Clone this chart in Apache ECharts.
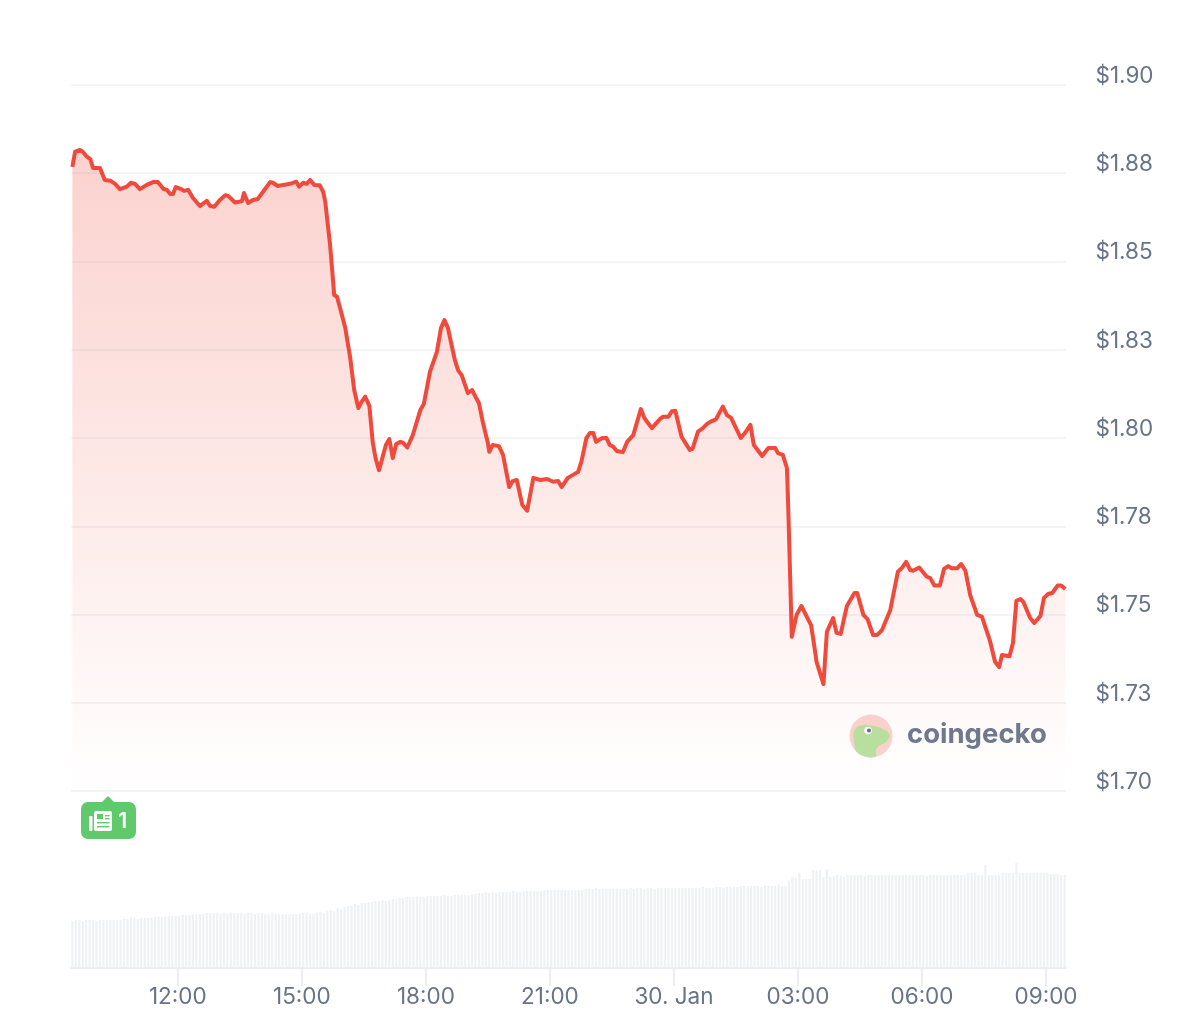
<!DOCTYPE html>
<html>
<head>
<meta charset="utf-8">
<style>html,body{margin:0;padding:0;background:#fff}#chart{width:1200px;height:1026px}</style>
<script src="https://cdn.jsdelivr.net/npm/echarts@6/dist/echarts.min.js"></script>
</head>
<body>
<div id="chart"></div>
<script>
// Minutes after 09:25 on 29 Jan
const priceMinutes = [2,6,13,17,23,28,32,42,49,57,64,71,81,87,93,100,110,119,126,134,139,144,148,152,159,164,170,177,187,197,202,208,216,224,228,238,248,251,257,264,271,289,293,300,308,318,327,331,337,342,347,353,361,366,369,376,382,386,390,398,405,411,417,422,427,433,438,442,447,457,462,467,472,478,482,488,496,507,512,521,531,537,542,547,557,562,567,576,582,587,592,598,605,607,612,621,627,636,641,647,655,662,671,681,691,700,707,712,721,736,741,748,753,758,762,771,777,782,787,792,801,807,816,827,832,836,843,855,859,867,872,877,886,898,902,910,917,923,930,936,946,952,958,972,978,986,991,1003,1012,1022,1026,1033,1039,1041,1044,1046,1053,1060,1074,1077,1082,1092,1097,1106,1111,1117,1126,1137,1141,1150,1156,1164,1170,1177,1189,1200,1206,1212,1218,1222,1231,1242,1247,1253,1261,1267,1273,1278,1286,1292,1298,1305,1315,1322,1334,1341,1347,1351,1362,1367,1372,1378,1382,1392,1398,1407,1412,1418,1424,1432,1437,1443];
const prices = [1.8768,1.8811,1.8816,1.8811,1.8797,1.8790,1.8765,1.8765,1.8731,1.8729,1.8720,1.8705,1.8712,1.8723,1.8720,1.8705,1.8717,1.8725,1.8725,1.8706,1.8703,1.8691,1.8691,1.8711,1.8706,1.8700,1.8703,1.8680,1.8657,1.8672,1.8657,1.8655,1.8674,1.8688,1.8686,1.8667,1.8671,1.8694,1.8666,1.8674,1.8677,1.8725,1.8723,1.8714,1.8717,1.8720,1.8726,1.8712,1.8723,1.8720,1.8731,1.8717,1.8716,1.8697,1.8669,1.8547,1.8405,1.8400,1.8372,1.8312,1.8230,1.8136,1.8085,1.8103,1.8117,1.8091,1.7986,1.7943,1.7909,1.7980,1.7997,1.7943,1.7983,1.7989,1.7986,1.7973,1.8008,1.8079,1.8096,1.8188,1.8244,1.8312,1.8334,1.8312,1.8221,1.8191,1.8178,1.8127,1.8136,1.8117,1.8099,1.8042,1.7986,1.7961,1.7980,1.7977,1.7952,1.7861,1.7878,1.7881,1.7810,1.7794,1.7887,1.7881,1.7884,1.7876,1.7878,1.7861,1.7887,1.7904,1.7935,1.8000,1.8014,1.8014,1.7989,1.8000,1.8000,1.7980,1.7975,1.7963,1.7960,1.7989,1.8008,1.8082,1.8057,1.8046,1.8028,1.8054,1.8060,1.8060,1.8076,1.8077,1.8004,1.7966,1.7969,1.8018,1.8028,1.8040,1.8048,1.8053,1.8089,1.8065,1.8057,1.8000,1.8014,1.8037,1.7980,1.7949,1.7972,1.7972,1.7957,1.7952,1.7915,1.7796,1.7584,1.7437,1.7499,1.7524,1.7470,1.7433,1.7366,1.7303,1.7451,1.7490,1.7448,1.7445,1.7524,1.7561,1.7561,1.7499,1.7487,1.7442,1.7442,1.7456,1.7513,1.7621,1.7632,1.7649,1.7626,1.7624,1.7633,1.7607,1.7603,1.7582,1.7582,1.7629,1.7637,1.7631,1.7631,1.7643,1.7624,1.7555,1.7499,1.7494,1.7423,1.7366,1.7351,1.7385,1.7382,1.7419,1.7539,1.7544,1.7536,1.7490,1.7476,1.7496,1.7547,1.7558,1.7561,1.7582,1.7582,1.7572];
// One value per 5 minutes
const volumes = [
47,48,48,47,48,48,48,47,48,48,48,48,48,48,48,49,49,50,50,49,
50,50,50,50,51,51,51,52,52,52,52,52,53,53,53,54,54,54,54,55,
55,55,55,54,55,54,55,55,55,55,54,55,55,54,55,55,54,54,55,54,
54,54,54,54,54,54,54,55,55,54,54,55,56,55,57,58,57,60,59,61,
62,62,64,63,65,65,66,66,67,67,68,67,68,69,69,70,70,71,71,71,
71,71,71,72,72,72,72,72,73,72,72,73,73,73,73,73,74,74,75,75,
76,75,76,75,76,76,76,76,77,76,76,77,77,77,77,77,77,78,78,78,
78,78,78,78,78,78,78,78,78,79,79,79,80,79,79,79,79,79,79,79,
79,79,80,79,80,80,79,80,80,79,80,80,80,80,80,80,80,80,80,80,
80,80,80,81,80,80,80,81,81,80,81,81,81,81,82,82,82,82,82,82,
81,82,82,82,82,83,82,82,87,91,90,95,89,89,89,98,98,98,91,99,
91,92,93,92,91,93,93,93,93,93,92,93,93,93,93,93,93,93,93,93,
93,93,93,93,93,93,93,93,92,93,93,93,93,93,93,93,93,93,93,93,
95,95,95,93,93,103,93,93,93,93,95,95,95,95,105,95,95,95,95,95,
95,95,95,95,94,94,94,93,93];
const startMinute = 565;
const xTickValues = [720,900,1080,1260,1440,1620,1800,1980];
const xTickLabels = ['12:00','15:00','18:00','21:00','30. Jan','03:00','06:00','09:00'];
const priceTicks = ['$1.70','$1.73','$1.75','$1.78','$1.80','$1.83','$1.85','$1.88','$1.90'];
const newsCount = '1';
const brand = 'coingecko';

const FONT = 'Inter';
const TEXT = '#667389';
const GRID = '#eff0f5';
const chart = echarts.init(document.getElementById('chart'), null, {renderer:'canvas', width:1200, height:1026});
const xRange = {min:startMinute, max:startMinute + 1444};
const GREEN = '#5fc96b';

chart.setOption({
  animation:false,
  backgroundColor:'#fff',
  grid:[
    {left:71, top:85, width:995, height:706},
    {left:71, top:858, width:995, height:110}
  ],
  xAxis:[
    Object.assign({type:'value', gridIndex:0, show:false, splitLine:{show:false}}, xRange),
    Object.assign({type:'value', gridIndex:1,
      axisLine:{show:true, onZero:false, lineStyle:{color:'#e6e8ee', width:1.5}},
      axisTick:{show:true, length:18, customValues:xTickValues, lineStyle:{color:'#e6e8ee', width:1.5}},
      axisLabel:{show:true, margin:18, customValues:xTickValues, color:TEXT, fontFamily:FONT, fontSize:22.5,
        formatter:v => xTickLabels[xTickValues.indexOf(v)] || ''},
      splitLine:{show:false}}, xRange)
  ],
  yAxis:[
    {type:'value', gridIndex:0, position:'right', min:1.7, max:1.9, interval:0.025,
      axisLine:{show:false}, axisTick:{show:false},
      axisLabel:{margin:29.5, color:TEXT, fontFamily:FONT, fontSize:22.5, verticalAlign:'bottom', lineHeight:18,
        formatter:(v,i) => priceTicks[Math.round((v-1.7)/0.025)]},
      splitLine:{show:true, lineStyle:{color:GRID, width:1.5}}},
    {type:'value', gridIndex:1, min:0, max:110, show:false, splitLine:{show:false}}
  ],
  series:[
    {type:'bar', xAxisIndex:1, yAxisIndex:1, barWidth:2.2, silent:true,
      itemStyle:{color:'#f0f1f5'},
      data:volumes.map((v,i) => [startMinute + 2 + i*5, v])},
    {type:'line', xAxisIndex:0, yAxisIndex:0, symbol:'none', smooth:false, silent:true,
      lineStyle:{color:'#ef4a3c', width:4, join:'round'},
      areaStyle:{origin:'start', color:{type:'linear',x:0,y:0,x2:0,y2:1,colorStops:[
        {offset:0,color:'rgba(238,66,50,0.34)'},{offset:1,color:'rgba(238,66,50,0)'}]}},
      data:prices.map((p,i) => [startMinute + priceMinutes[i], p])}
  ],
  graphic:[
    {type:'polygon', shape:{points:[[101,803],[108,796],[115,803]]}, style:{fill:GREEN}},
    {type:'rect', shape:{x:81,y:802,width:55,height:37,r:7}, style:{fill:GREEN}},
    {type:'rect', shape:{x:94,y:811,width:18,height:20,r:2}, style:{fill:'#fff'}},
    {type:'rect', shape:{x:89,y:816,width:3.5,height:15,r:1}, style:{fill:'#fff'}},
    {type:'rect', shape:{x:97,y:814,width:6,height:5}, style:{fill:GREEN}},
    {type:'rect', shape:{x:105,y:815,width:4.5,height:1.4}, style:{fill:GREEN}},
    {type:'rect', shape:{x:105,y:818,width:4.5,height:1.4}, style:{fill:GREEN}},
    {type:'rect', shape:{x:97,y:822,width:12.5,height:1.4}, style:{fill:GREEN}},
    {type:'rect', shape:{x:97,y:826,width:12.5,height:1.4}, style:{fill:GREEN}},
    {type:'text', style:{x:118,y:821,text:newsCount,fill:'#fff',font:'600 22px Inter',textVerticalAlign:'middle'}},
    {type:'circle', shape:{cx:871,cy:736,r:21.5}, style:{fill:'#fad4cf'}},
    {type:'polygon', shape:{smooth:0.4, points:[[855,729],[868,725],[889,733],[887,741],[877,748],[875,757],[858,753],[854,741]]}, style:{fill:'#b7e2a0'}},
    {type:'circle', shape:{cx:868,cy:730.5,r:3.8}, style:{fill:'#fff'}},
    {type:'circle', shape:{cx:869,cy:730.5,r:2}, style:{fill:'#5f6d7c'}},
    {type:'text', style:{x:907,y:735,text:brand,fill:'#6c7a90',font:'700 27.5px Inter',textVerticalAlign:'middle'}}
  ]
});
</script>
</body>
</html>
